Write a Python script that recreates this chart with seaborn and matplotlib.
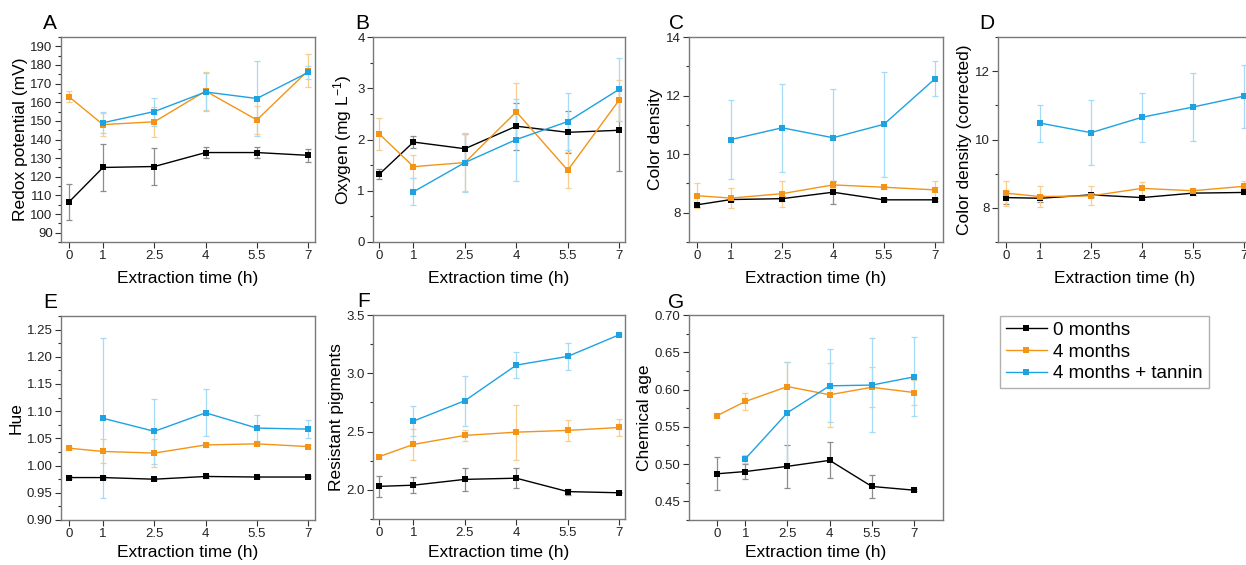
import pandas as pd
import seaborn as sns
import matplotlib.pyplot as plt
from matplotlib.lines import Line2D
from matplotlib.ticker import MultipleLocator

# extraction times (h); the tannin series has no 0 h value
times = [0, 1, 2.5, 4, 5.5, 7]
times_tan = [1, 2.5, 4, 5.5, 7]
time_labels = ['0', '1', '2.5', '4', '5.5', '7']
groups = ['0 months', '4 months', '4 months + tannin']

# A  redox potential (mV)
redox_0m = [106.4, 125.0, 125.5, 133.0, 133.0, 131.5]
redox_0m_sd = [9.5, 12.5, 10.0, 3.0, 3.0, 3.5]
redox_4m = [163.0, 148.0, 149.5, 166.0, 150.5, 177.0]
redox_4m_sd = [3.0, 6.0, 8.0, 10.0, 7.5, 9.0]
redox_tan = [149.0, 155.0, 165.5, 162.0, 176.0]
redox_tan_sd = [5.5, 7.5, 10.0, 20.0, 3.5]

# B  oxygen (mg/L)
oxy_0m = [1.32, 1.95, 1.82, 2.26, 2.14, 2.18]
oxy_0m_sd = [0.10, 0.12, 0.28, 0.46, 0.41, 0.80]
oxy_4m = [2.11, 1.47, 1.55, 2.54, 1.40, 2.77]
oxy_4m_sd = [0.31, 0.22, 0.56, 0.56, 0.35, 0.40]
oxy_tan = [0.98, 1.55, 2.00, 2.35, 2.98]
oxy_tan_sd = [0.26, 0.57, 0.80, 0.55, 0.62]

# C  color density
cd_0m = [8.27, 8.45, 8.48, 8.70, 8.44, 8.44]
cd_0m_sd = [0.06, 0.05, 0.08, 0.40, 0.05, 0.05]
cd_4m = [8.58, 8.50, 8.65, 8.95, 8.87, 8.78]
cd_4m_sd = [0.42, 0.35, 0.45, 0.10, 0.05, 0.30]
cd_tan = [10.50, 10.90, 10.56, 11.02, 12.57]
cd_tan_sd = [1.34, 1.50, 1.66, 1.80, 0.60]

# D  color density (corrected)
cdc_0m = [8.30, 8.28, 8.38, 8.30, 8.43, 8.45]
cdc_0m_sd = [0.20, 0.10, 0.05, 0.04, 0.04, 0.04]
cdc_4m = [8.43, 8.33, 8.35, 8.57, 8.50, 8.63]
cdc_4m_sd = [0.37, 0.30, 0.28, 0.20, 0.05, 0.15]
cdc_tan = [10.48, 10.20, 10.65, 10.95, 11.27]
cdc_tan_sd = [0.54, 0.96, 0.71, 1.00, 0.92]

# E  hue
hue_0m = [0.978, 0.978, 0.975, 0.980, 0.979, 0.979]
hue_0m_sd = [0.002, 0.002, 0.002, 0.002, 0.002, 0.002]
hue_4m = [1.032, 1.026, 1.023, 1.038, 1.040, 1.035]
hue_4m_sd = [0.003, 0.022, 0.026, 0.003, 0.003, 0.003]
hue_tan = [1.087, 1.063, 1.097, 1.069, 1.067]
hue_tan_sd = [0.147, 0.060, 0.043, 0.024, 0.017]

# F  resistant pigments
rp_0m = [2.03, 2.04, 2.09, 2.10, 1.985, 1.975]
rp_0m_sd = [0.09, 0.07, 0.10, 0.085, 0.025, 0.005]
rp_4m = [2.285, 2.39, 2.467, 2.495, 2.51, 2.535]
rp_4m_sd = [0.01, 0.13, 0.05, 0.235, 0.09, 0.07]
rp_tan = [2.59, 2.765, 3.07, 3.145, 3.33]
rp_tan_sd = [0.13, 0.215, 0.11, 0.115, 0.01]

# G  chemical age
ca_0m = [0.487, 0.490, 0.497, 0.505, 0.470, 0.465]
ca_0m_sd = [0.022, 0.010, 0.029, 0.024, 0.015, 0.001]
ca_4m = [0.565, 0.584, 0.604, 0.593, 0.603, 0.596]
ca_4m_sd = [0.003, 0.012, 0.033, 0.043, 0.027, 0.017]
ca_tan = [0.507, 0.569, 0.605, 0.606, 0.617]
ca_tan_sd = [0.005, 0.068, 0.049, 0.063, 0.053]

colors = {'0 months': '#000000', '4 months': '#F39417', '4 months + tannin': '#1DA2E2'}
err_colors = {'0 months': '#8c8c8c', '4 months': '#F8CD8E', '4 months + tannin': '#A6DAF5'}

plt.rcParams['font.family'] = ['Liberation Sans', 'DejaVu Sans']
plt.rcParams['mathtext.fontset'] = 'custom'
plt.rcParams['mathtext.rm'] = 'Liberation Sans'
plt.rcParams['mathtext.it'] = 'Liberation Sans:italic'

W, H = 1246, 565
fig = plt.figure(figsize=(W / 100, H / 100), dpi=100)

# panel: letter, ylabel, series, ylim, major, minor, tick format, box (l, r, t, b px), xlim, letter pos, xlabel pad
panels = [
    ('A', 'Redox potential (mV)', [redox_0m, redox_0m_sd, redox_4m, redox_4m_sd, redox_tan, redox_tan_sd],
     (85, 195), 10, 5, '{:.0f}', (61, 315, 37, 242), (-0.23, 7.2), (43, 29), 6),
    ('B', 'Oxygen (mg L$^{-1}$)', [oxy_0m, oxy_0m_sd, oxy_4m, oxy_4m_sd, oxy_tan, oxy_tan_sd],
     (0, 4), 1, 0.5, '{:.0f}', (373, 625, 37, 242), (-0.18, 7.17), (355, 29), 6),
    ('C', 'Color density', [cd_0m, cd_0m_sd, cd_4m, cd_4m_sd, cd_tan, cd_tan_sd],
     (7, 14), 2, 1, '{:.0f}', (689, 943, 37, 242), (-0.24, 7.24), (669, 29), 6),
    ('D', 'Color density (corrected)', [cdc_0m, cdc_0m_sd, cdc_4m, cdc_4m_sd, cdc_tan, cdc_tan_sd],
     (7, 13), 2, 1, '{:.0f}', (998, 1252, 37, 242), (-0.24, 7.24), (979, 29), 6),
    ('E', 'Hue', [hue_0m, hue_0m_sd, hue_4m, hue_4m_sd, hue_tan, hue_tan_sd],
     (0.9, 1.275), 0.05, 0.025, '{:.2f}', (61, 315, 316, 520), (-0.23, 7.2), (43, 308), 3),
    ('F', 'Resistant pigments', [rp_0m, rp_0m_sd, rp_4m, rp_4m_sd, rp_tan, rp_tan_sd],
     (1.75, 3.5), 0.5, 0.25, '{:.1f}', (373, 625, 315, 519), (-0.18, 7.17), (357, 307), 4),
    ('G', 'Chemical age', [ca_0m, ca_0m_sd, ca_4m, ca_4m_sd, ca_tan, ca_tan_sd],
     (0.425, 0.70), 0.05, 0.025, '{:.2f}', (689, 943, 315, 520), (-1.0, 8.03), (668, 308), 3),
]

spine_col = '#7a7a7a'

for letter, ylab, s, ylim, major, minor, fmt, box, xlim, lpos, xpad in panels:
    l, r, t, b = box
    ax = fig.add_axes([l / W, 1 - b / H, (r - l) / W, (b - t) / H])
    series = [(groups[0], times, s[0], s[1]),
              (groups[1], times, s[2], s[3]),
              (groups[2], times_tan, s[4], s[5])]
    df = pd.concat([pd.DataFrame({'time': x, 'value': y, 'group': g}) for g, x, y, e in series])
    for g, x, y, e in series:
        ax.errorbar(x, y, yerr=e, fmt='none', ecolor=err_colors[g], elinewidth=0.9,
                    capsize=2, capthick=0.9, zorder=1)
    sns.lineplot(data=df, x='time', y='value', hue='group', palette=colors, hue_order=groups,
                 marker='s', markersize=4.6, markeredgewidth=0, linewidth=1.0,
                 errorbar=None, legend=False, ax=ax, zorder=3)
    ax.set_xlim(*xlim)
    ax.set_ylim(*ylim)
    ax.set_xticks(times)
    ax.set_xticklabels(time_labels)
    ax.yaxis.set_major_locator(MultipleLocator(major))
    ax.yaxis.set_minor_locator(MultipleLocator(minor))
    ax.set_yticks([v for v in ax.get_yticks() if ylim[0] - 1e-9 <= v <= ylim[1] + 1e-9])
    ax.set_yticklabels([fmt.format(v) for v in ax.get_yticks()])
    ax.set_ylim(*ylim)
    ax.tick_params(axis='both', which='major', direction='out', length=4, width=0.8,
                   color='#333333', labelsize=9.5, pad=2, labelcolor='#222222')
    ax.tick_params(axis='y', which='minor', direction='out', length=2, width=0.8, color='#333333')
    for sp in ax.spines.values():
        sp.set_color(spine_col)
        sp.set_linewidth(1.0)
    ax.set_xlabel('Extraction time (h)', fontsize=12.5, labelpad=xpad)
    ax.set_ylabel(ylab, fontsize=12.5, labelpad=2)
    fig.text(lpos[0] / W, 1 - lpos[1] / H, letter, fontsize=15, va='baseline', ha='left')

handles = [Line2D([], [], color=colors[g], marker='s', markersize=4.6, markeredgewidth=0, lw=1.0)
           for g in groups]
fig.legend(handles, groups, loc='upper left', bbox_to_anchor=(1000 / W, 1 - 316 / H),
           frameon=True, fancybox=False, edgecolor='#b0b0b0', framealpha=1,
           fontsize=13.5, handlelength=2.2, handletextpad=0.35, borderpad=0.3,
           labelspacing=0.25, borderaxespad=0)

fig.savefig('out.png', dpi=100)
